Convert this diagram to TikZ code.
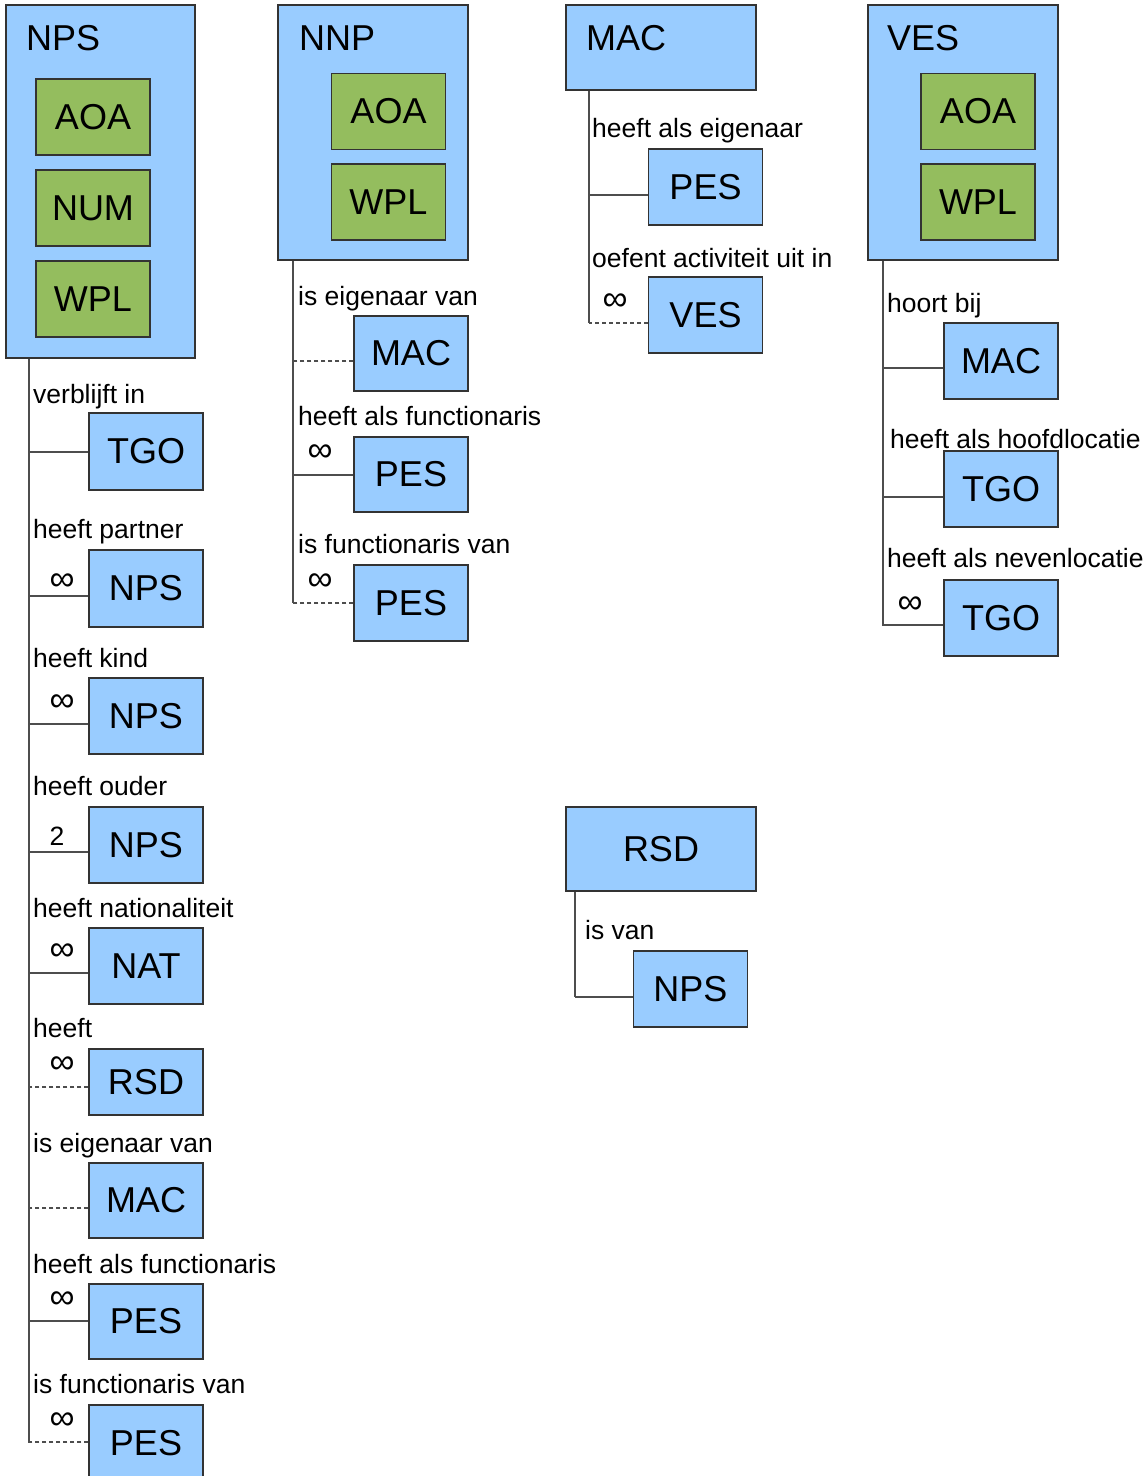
\documentclass[tikz,border=0pt]{standalone}
\usepackage{fontspec}
\setmainfont{Liberation Sans}
\definecolor{boxblue}{HTML}{99CCFF}
\definecolor{boxgreen}{HTML}{94BD5E}
\definecolor{edgecol}{HTML}{333333}
\definecolor{linegray}{HTML}{4D4D4D}
\newcommand\entfont{\fontsize{36}{40}\selectfont}
\newcommand\lblfont{\fontsize{26.5}{30}\selectfont}
\newcommand\inffont{\fontsize{35}{38}\selectfont}
\begin{document}
\begin{tikzpicture}[x=1pt,y=-1pt,
  mainbox/.style={draw=edgecol, line width=1.1pt, fill=boxblue, inner sep=0pt, font=\entfont},
  attrbox/.style={draw=edgecol, line width=1.1pt, fill=boxgreen, minimum width=114pt, minimum height=76pt, inner sep=0pt, font=\entfont},
  child/.style={draw=edgecol, line width=1.1pt, fill=boxblue, minimum width=114pt, minimum height=76pt, inner sep=0pt, font=\entfont},
  title/.style={anchor=base west, inner sep=0pt, font=\entfont},
  rel/.style={anchor=base west, inner sep=0pt, font=\lblfont},
  mult/.style={inner sep=0pt, font=\inffont},
  multnum/.style={inner sep=0pt, font=\lblfont},
  trunk/.style={draw=linegray, line width=1.1pt},
  link/.style={draw=linegray, line width=1.1pt},
  optlink/.style={draw=linegray, line width=1.1pt, dash pattern=on 4pt off 3pt}]
\useasboundingbox (0,0) rectangle (1147,1476);
\clip (0,0) rectangle (1147,1476);

% ================= NPS column =================
\node[mainbox, minimum width=189pt, minimum height=353pt] (nps) at (100.5,181.5) {};
\node[title] (tnps) at (26,50) {NPS};
\node[attrbox] (npsAOA) at (93,117) {AOA};
\node[attrbox] (npsNUM) at (93,208) {NUM};
\node[attrbox] (npsWPL) at (93,299) {WPL};
\coordinate (npsEnd) at (29,1442);
\draw[trunk] (nps.south -| npsEnd) -- (npsEnd);

\node[rel] (l1) at (33,403) {verblijft in};
\node[child, minimum height=77pt] (c1) at (146,451.5) {TGO};
\draw[link] ([yshift=-0.5pt]c1.west) -- ++(-60,0);

\node[rel] (l2) at (33,538) {heeft partner};
\node[mult] (m2) at (62,582) {∞};
\node[child, minimum height=77pt] (c2) at (146,588.5) {NPS};
\draw[link] ([yshift=-7.5pt]c2.west) -- ++(-60,0);

\node[rel] (l3) at (33,667) {heeft kind};
\node[mult] (m3) at (62,703) {∞};
\node[child] (c3) at (146,716) {NPS};
\draw[link] ([yshift=-8pt]c3.west) -- ++(-60,0);

\node[rel] (l4) at (33,795) {heeft ouder};
\node[multnum] (m4) at (57,836) {2};
\node[child] (c4) at (146,845) {NPS};
\draw[link] ([yshift=-7pt]c4.west) -- ++(-60,0);

\node[rel] (l5) at (33,917) {heeft nationaliteit};
\node[mult] (m5) at (62,952) {∞};
\node[child] (c5) at (146,966) {NAT};
\draw[link] ([yshift=-7pt]c5.west) -- ++(-60,0);

\node[rel] (l6) at (33,1037) {heeft};
\node[mult] (m6) at (62,1065) {∞};
\node[child, minimum height=66pt] (c6) at (146,1082) {RSD};
\draw[optlink] ([yshift=-5pt]c6.west) -- ++(-60,0);

\node[rel] (l7) at (33,1152) {is eigenaar van};
\node[child, minimum height=75pt] (c7) at (146,1200.5) {MAC};
\draw[optlink] ([yshift=-7.5pt]c7.west) -- ++(-60,0);

\node[rel] (l8) at (33,1273) {heeft als functionaris};
\node[mult] (m8) at (62,1300) {∞};
\node[child, minimum height=75pt] (c8) at (146,1321.5) {PES};
\draw[link] ([yshift=0.5pt]c8.west) -- ++(-60,0);

\node[rel] (l9) at (33,1393) {is functionaris van};
\node[mult] (m9) at (62,1421) {∞};
\node[child] (c9) at (146,1443) {PES};
\draw[optlink] ([yshift=1pt]c9.west) -- ++(-60,0);

% ================= NNP column =================
\node[mainbox, minimum width=190pt, minimum height=255pt] (nnp) at (373,132.5) {};
\node[title] (tnnp) at (299,50) {NNP};
\node[attrbox] (nnpAOA) at (388.5,111.5) {AOA};
\node[attrbox] (nnpWPL) at (388.5,202) {WPL};
\coordinate (nnpEnd) at (293,603);
\draw[trunk] (nnp.south -| nnpEnd) -- (nnpEnd);

\node[rel] (n1l) at (298,305) {is eigenaar van};
\node[child, minimum height=75pt] (n1) at (411,353.5) {MAC};
\draw[optlink] ([yshift=-7.5pt]n1.west) -- ++(-61,0);

\node[rel] (n2l) at (298,425) {heeft als functionaris};
\node[mult] (n2m) at (320,453) {∞};
\node[child, minimum height=75pt] (n2) at (411,474.5) {PES};
\draw[link] ([yshift=-0.5pt]n2.west) -- ++(-61,0);

\node[rel] (n3l) at (298,553) {is functionaris van};
\node[mult] (n3m) at (320,582) {∞};
\node[child] (n3) at (411,603) {PES};
\draw[optlink] (n3.west) -- ++(-61,0);

% ================= MAC column =================
\node[mainbox, minimum width=190pt, minimum height=85pt] (mac) at (661,47.5) {};
\node[title] (tmac) at (586,50) {MAC};
\coordinate (macEnd) at (589,323);
\draw[trunk] (mac.south -| macEnd) -- (macEnd);

\node[rel] (k1l) at (592,137) {heeft als eigenaar};
\node[child] (k1) at (705.5,187) {PES};
\draw[link] ([yshift=-8pt]k1.west) -- ++(-59,0);

\node[rel] (k2l) at (592,267) {oefent activiteit uit in};
\node[mult] (k2m) at (615,302) {∞};
\node[child] (k2) at (705.5,315) {VES};
\draw[optlink] ([yshift=-8pt]k2.west) -- ++(-59,0);

% ================= VES column =================
\node[mainbox, minimum width=190pt, minimum height=255pt] (ves) at (963,132.5) {};
\node[title] (tves) at (887,50) {VES};
\node[attrbox] (vesAOA) at (978,111.5) {AOA};
\node[attrbox] (vesWPL) at (978,202) {WPL};
\coordinate (vesEnd) at (883,625);
\draw[trunk] (ves.south -| vesEnd) -- (vesEnd);

\node[rel] (v1l) at (887,312) {hoort bij};
\node[child] (v1) at (1001,361) {MAC};
\draw[link] ([yshift=-7pt]v1.west) -- ++(-61,0);

\node[rel] (v2l) at (890,448) {heeft als hoofdlocatie};
\node[child] (v2) at (1001,489) {TGO};
\draw[link] ([yshift=-8pt]v2.west) -- ++(-61,0);

\node[rel] (v3l) at (887,567) {heeft als nevenlocatie};
\node[mult] (v3m) at (910,605) {∞};
\node[child] (v3) at (1001,618) {TGO};
\draw[link] ([yshift=-7pt]v3.west) -- ++(-61,0);

% ================= RSD column =================
\node[mainbox, minimum width=190pt, minimum height=84pt] (rsd) at (661,849) {RSD};
\coordinate (rsdEnd) at (575,997);
\draw[trunk] (rsd.south -| rsdEnd) -- (rsdEnd);

\node[rel] (r1l) at (585,939) {is van};
\node[child] (r1) at (690.5,989) {NPS};
\draw[link] ([yshift=-8pt]r1.west) -- ++(-58,0);
\end{tikzpicture}
\end{document}
